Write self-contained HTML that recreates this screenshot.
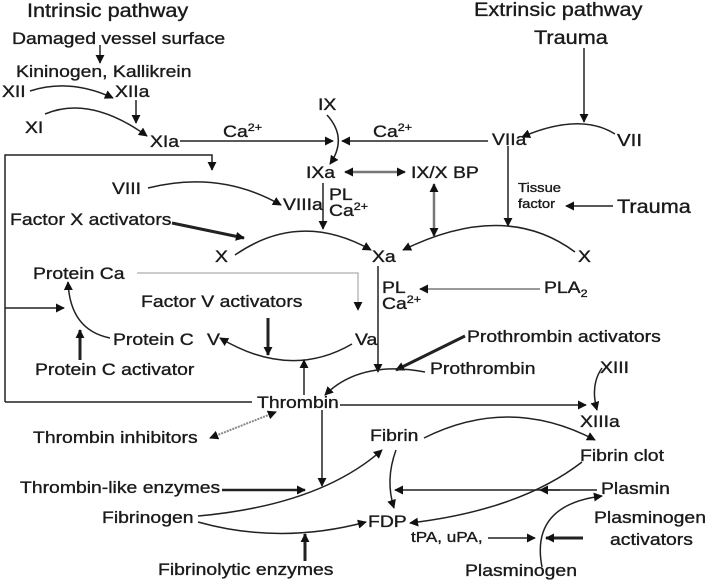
<!DOCTYPE html>
<html><head><style>
html,body{margin:0;padding:0;background:#fff;}
svg{display:block;}
text{font-family:"Liberation Sans",Arial,sans-serif;fill:#1a1a1a;font-size:17px;stroke:#1a1a1a;stroke-width:0.35;transform-box:fill-box;transform-origin:left center;transform:scaleX(1.14);}
</style></head><body>
<svg width="708" height="583" viewBox="0 0 708 583" xmlns="http://www.w3.org/2000/svg">
<defs>
<marker id="a" viewBox="0 0 10 10" refX="9" refY="5" markerWidth="9" markerHeight="9" markerUnits="userSpaceOnUse" orient="auto-start-reverse"><path d="M0,0 L10,5 L0,10 z" fill="#111"/></marker>
<marker id="g" viewBox="0 0 10 10" refX="9" refY="5" markerWidth="9" markerHeight="9" markerUnits="userSpaceOnUse" orient="auto-start-reverse"><path d="M0,0 L10,5 L0,10 z" fill="#111"/></marker>
</defs>
<g stroke="#222" stroke-width="1.5" fill="none">
<line x1="100" y1="45" x2="100" y2="63" marker-end="url(#a)"/>
<path d="M30,91 Q70,78 113,98" marker-end="url(#a)"/>
<line x1="136" y1="100" x2="136" y2="123" marker-end="url(#a)"/>
<path d="M45,114 Q90,95 147,136" marker-end="url(#a)"/>
<line x1="180" y1="141" x2="333" y2="141" marker-end="url(#a)"/>
<path d="M327,115 Q348,138 330,164" marker-end="url(#a)"/>
<line x1="488" y1="141" x2="342" y2="141" marker-end="url(#a)"/>
<line x1="584" y1="48" x2="584" y2="122" marker-end="url(#a)"/>
<path d="M615,134 Q580,112 522,137" marker-end="url(#a)"/>
<line x1="508" y1="146" x2="508" y2="226" marker-end="url(#a)"/>
<line x1="613" y1="206" x2="566" y2="206" marker-end="url(#a)"/>
<path d="M575,252 Q505,200 403,250" marker-end="url(#a)"/>
<line x1="345" y1="172" x2="405" y2="172" stroke="#777" stroke-width="2.5" marker-start="url(#g)" marker-end="url(#g)"/>
<line x1="434" y1="184" x2="434" y2="236" stroke="#777" stroke-width="2.5" marker-start="url(#g)" marker-end="url(#g)"/>
<line x1="323" y1="183" x2="323" y2="229" marker-end="url(#a)"/>
<polyline points="5,402 5,155 212,155 212,170" marker-end="url(#a)"/>
<line x1="5" y1="402" x2="252" y2="402"/>
<path d="M148,188 Q220,170 281,205" marker-end="url(#a)"/>
<line x1="172" y1="223" x2="244" y2="238" stroke-width="3" marker-end="url(#a)"/>
<path d="M235,255 Q300,210 371,250" marker-end="url(#a)"/>
<line x1="378" y1="266" x2="378" y2="372" marker-end="url(#a)"/>
<line x1="540" y1="289" x2="420" y2="289" stroke="#999" stroke-width="2" marker-end="url(#g)"/>
<polyline points="137,273 358,273 358,310" stroke="#999" stroke-width="1" marker-end="url(#g)"/>
<path d="M110,338 Q70,330 68,282" marker-end="url(#a)"/>
<line x1="5" y1="308" x2="64" y2="308" marker-end="url(#a)"/>
<line x1="80" y1="360" x2="80" y2="330" stroke-width="3" marker-end="url(#a)"/>
<line x1="268" y1="318" x2="268" y2="355" stroke-width="3" marker-end="url(#a)"/>
<path d="M352,344 Q290,380 220,338" marker-end="url(#a)"/>
<line x1="304" y1="395" x2="304" y2="360" marker-end="url(#a)"/>
<line x1="465" y1="336" x2="396" y2="370" stroke-width="3" marker-end="url(#a)"/>
<path d="M425,372 Q360,360 325,395" marker-end="url(#a)"/>
<line x1="340" y1="405" x2="586" y2="405" marker-end="url(#a)"/>
<path d="M602,368 Q590,385 597,410" marker-end="url(#a)"/>
<line x1="210" y1="438" x2="276" y2="412" stroke="#888" stroke-width="2" stroke-dasharray="2,1" marker-start="url(#g)" marker-end="url(#g)"/>
<line x1="322" y1="410" x2="322" y2="486" marker-end="url(#a)"/>
<path d="M424,438 Q510,395 595,440" marker-end="url(#a)"/>
<line x1="222" y1="490" x2="305" y2="490" stroke-width="2.5" marker-end="url(#a)"/>
<path d="M198,516 Q320,505 382,450" marker-end="url(#a)"/>
<path d="M198,522 Q280,545 366,522" marker-end="url(#a)"/>
<line x1="305" y1="561" x2="305" y2="534" stroke-width="3" marker-end="url(#a)"/>
<path d="M396,450 Q385,480 394,508" marker-end="url(#a)"/>
<line x1="597" y1="490" x2="395" y2="490" marker-end="url(#a)"/>
<line x1="560" y1="490" x2="540" y2="490" marker-end="url(#a)"/>
<path d="M582,462 Q520,510 410,523" marker-end="url(#a)"/>
<line x1="488" y1="538" x2="535" y2="538" marker-end="url(#a)"/>
<line x1="583" y1="538" x2="546" y2="538" stroke-width="3" marker-end="url(#a)"/>
<path d="M542,567 Q530,505 602,496" marker-end="url(#a)"/>
</g>
<text x="27" y="17" style="font-size:19px">Intrinsic pathway</text>
<text x="12" y="44">Damaged vessel surface</text>
<text x="16" y="77">Kininogen, Kallikrein</text>
<text x="2" y="97">XII</text>
<text x="115" y="97">XIIa</text>
<text x="25" y="133">XI</text>
<text x="150" y="147">XIa</text>
<text x="223" y="137">Ca<tspan font-size="11" dy="-6">2+</tspan></text>
<text x="318" y="110">IX</text>
<text x="373" y="137">Ca<tspan font-size="11" dy="-6">2+</tspan></text>
<text x="474" y="16" style="font-size:19px">Extrinsic pathway</text>
<text x="534" y="44" style="font-size:19px">Trauma</text>
<text x="492" y="145">VIIa</text>
<text x="617" y="146" style="font-size:18px">VII</text>
<text x="306" y="178">IXa</text>
<text x="411" y="178">IX/X BP</text>
<text x="518" y="192" style="font-size:13px">Tissue</text>
<text x="518" y="208" style="font-size:13px">factor</text>
<text x="617" y="213" style="font-size:19px">Trauma</text>
<text x="112" y="194">VIII</text>
<text x="283" y="210">VIIIa</text>
<text x="329" y="200">PL</text>
<text x="329" y="216">Ca<tspan font-size="11" dy="-6">2+</tspan></text>
<text x="10" y="225">Factor X activators</text>
<text x="215" y="262">X</text>
<text x="372" y="262">Xa</text>
<text x="578" y="262">X</text>
<text x="33" y="279">Protein Ca</text>
<text x="382" y="293">PL</text>
<text x="382" y="309">Ca<tspan font-size="11" dy="-6">2+</tspan></text>
<text x="544" y="293">PLA<tspan font-size="11" dy="4">2</tspan></text>
<text x="141" y="307">Factor V activators</text>
<text x="113" y="345">Protein C</text>
<text x="207" y="345">V</text>
<text x="355" y="345">Va</text>
<text x="467" y="342">Prothrombin activators</text>
<text x="35" y="375">Protein C activator</text>
<text x="430" y="374">Prothrombin</text>
<text x="600" y="373">XIII</text>
<text x="257" y="408">Thrombin</text>
<text x="580" y="427">XIIIa</text>
<text x="370" y="441">Fibrin</text>
<text x="33" y="443">Thrombin inhibitors</text>
<text x="580" y="461">Fibrin clot</text>
<text x="20" y="493">Thrombin-like enzymes</text>
<text x="601" y="494">Plasmin</text>
<text x="102" y="523">Fibrinogen</text>
<text x="368" y="527">FDP</text>
<text x="594" y="523">Plasminogen</text>
<text x="610" y="545">activators</text>
<text x="411" y="542" style="font-size:15px">tPA, uPA,</text>
<text x="158" y="575">Fibrinolytic enzymes</text>
<text x="465" y="576">Plasminogen</text>
</svg>
</body></html>
